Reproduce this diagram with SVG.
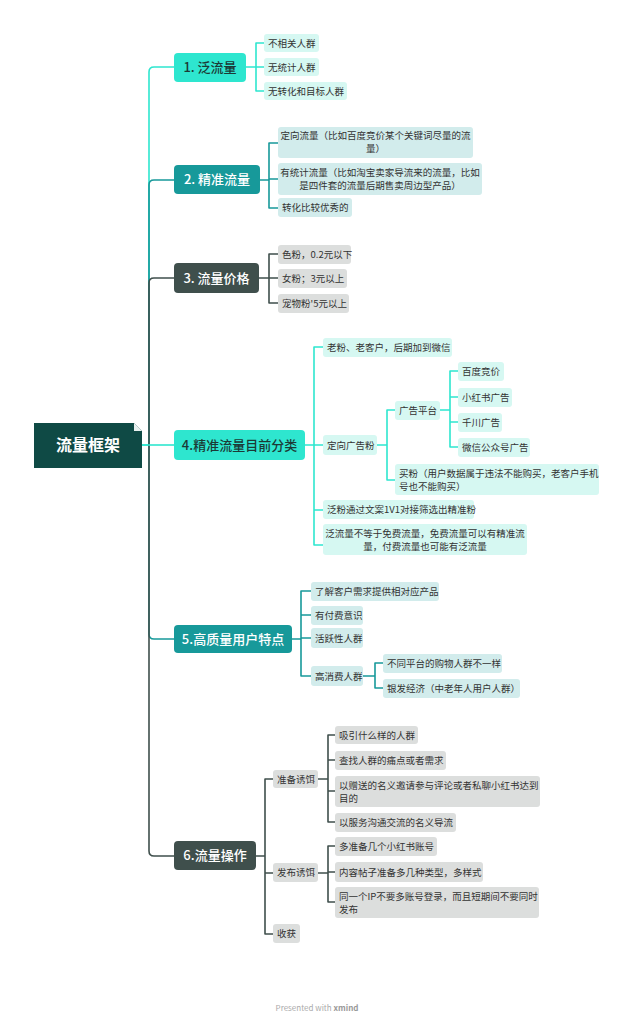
<svg xmlns="http://www.w3.org/2000/svg" width="633" height="1024" viewBox="0 0 633 1024">
<style>
text{font-family:"Noto Sans CJK SC","Liberation Sans",sans-serif;}
.c{fill:#333;font-size:9.5px;}
.l1{font-size:13px;font-weight:500;text-anchor:middle;}
.w{fill:#fff}.d{fill:#1c3a36}
.ln{fill:none;stroke-width:1.6;stroke-linejoin:round}
.mint{fill:#d6f8f2}.teal{fill:#d2ecec}.gray{fill:#dcdedd}
</style>
<rect width="633" height="1024" fill="#fff"/>
<g id="connectors">
<path class="ln" stroke="#2ee6cf" d="M142 445 H149 V72 Q149 67 154 67 H174"/>
<path class="ln" stroke="#17999a" d="M149 445 V185 Q149 180 154 180 H174"/>
<path class="ln" stroke="#3f4f4c" d="M149 445 V283 Q149 278 154 278 H174"/>
<path class="ln" stroke="#17999a" d="M149 445 V634 Q149 639 154 639 H174"/>
<path class="ln" stroke="#3f4f4c" d="M149 445 V851 Q149 856 154 856 H174"/>
<path class="ln" stroke="#2ee6cf" d="M142 445 H174"/>
<g stroke="#2ee6cf" class="ln">
<path d="M246 67 H256 M256 67 V43 H264 M256 67 V91 H264 M256 67 H264"/>
<path d="M305 445 H323 M314 445 V347 H323 M314 445 V545 H323 M314 510 H323"/>
<path d="M377 445 H387 V410 H395 M387 445 V480 H395"/>
<path d="M440 410 H450 V371 H458 M450 410 V447 H458 M450 397 H458 M450 422 H458"/>
</g>
<g stroke="#17999a" class="ln">
<path d="M260 180 H269 V143 H278 M269 180 V208 H278 M269 179 H278"/>
<path d="M292 639 H301 V591 H311 M301 639 V676 H311 M301 615 H311 M301 638 H311"/>
<path d="M363 676 H375 V663 H383 M375 676 V688 H383"/>
</g>
<g stroke="#3f4f4c" class="ln">
<path d="M259 278 H269 V254 H278 M269 278 V303 H278 M269 278 H278"/>
<path d="M256 856 H265 V779 H273 M265 856 V934 H273 M265 873 H273"/>
<path d="M318 779 H328 V735 H335 M328 779 V822 H335 M328 760 H335 M328 791 H335"/>
<path d="M318 873 H328 V846 H335 M328 873 V902 H335 M328 872 H335"/>
</g>
</g>
<g id="root"><rect x="34" y="423" width="108" height="45" fill="#0f4a45"/><path d="M134 423 L142 431 L142 423Z" fill="#fff"/><path d="M134 423 L142 431 L134 431Z" fill="#e8f0ef"/><text x="88" y="451" font-size="16" font-weight="bold" fill="#fff" text-anchor="middle">流量框架</text></g>
<g id="n1"><rect x="174" y="53" width="72" height="29" rx="4" fill="#2ee6cf"/><text class="l1 d" x="210" y="72">1. 泛流量</text></g>
<g id="n2"><rect x="174" y="165" width="86" height="29" rx="4" fill="#17999a"/><text class="l1 w" x="217" y="184">2. 精准流量</text></g>
<g id="n3"><rect x="174" y="263" width="85" height="30" rx="4" fill="#3f4f4c"/><text class="l1 w" x="216.5" y="283">3. 流量价格</text></g>
<g id="n4"><rect x="174" y="430" width="131" height="30" rx="4" fill="#2ee6cf"/><text class="l1 d" x="239.5" y="450">4.精准流量目前分类</text></g>
<g id="n5"><rect x="174" y="625" width="118" height="28" rx="4" fill="#17999a"/><text class="l1 w" x="233" y="644">5.高质量用户特点</text></g>
<g id="n6"><rect x="174" y="841" width="82" height="29" rx="4" fill="#3f4f4c"/><text class="l1 w" x="215" y="860">6.流量操作</text></g>

<g id="n1a"><rect class="mint" x="264" y="34" width="55" height="18" rx="3"/><text class="c" x="268" y="47">不相关人群</text></g>
<g id="n1b"><rect class="mint" x="264" y="58" width="55" height="18" rx="3"/><text class="c" x="268" y="71">无统计人群</text></g>
<g id="n1c"><rect class="mint" x="264" y="82" width="83" height="18" rx="3"/><text class="c" x="268" y="95">无转化和目标人群</text></g>

<g id="n2a"><rect class="teal" x="278" y="127" width="195" height="31" rx="3"/><text class="c" x="375.5" y="139" text-anchor="middle">定向流量（比如百度竞价某个关键词尽量的流</text><text class="c" x="375.5" y="152" text-anchor="middle">量）</text></g>
<g id="n2b"><rect class="teal" x="278" y="163" width="204" height="32" rx="3"/><text class="c" x="380" y="176" text-anchor="middle">有统计流量（比如淘宝卖家导流来的流量，比如</text><text class="c" x="380" y="189" text-anchor="middle">是四件套的流量后期售卖周边型产品）</text></g>
<g id="n2c"><rect class="teal" x="278" y="198" width="74" height="19" rx="3"/><text class="c" x="282" y="211">转化比较优秀的</text></g>

<g id="n3a"><rect class="gray" x="278" y="245" width="73" height="19" rx="3"/><text class="c" x="282" y="258">色粉，0.2元以下</text></g>
<g id="n3b"><rect class="gray" x="278" y="269" width="69" height="19" rx="3"/><text class="c" x="282" y="282">女粉；3元以上</text></g>
<g id="n3c"><rect class="gray" x="278" y="294" width="71" height="19" rx="3"/><text class="c" x="282" y="307">宠物粉'5元以上</text></g>

<g id="n4a"><rect class="mint" x="323" y="338" width="129" height="19" rx="3"/><text class="c" x="327" y="351">老粉、老客户，后期加到微信</text></g>
<g id="n4b"><rect class="mint" x="323" y="435" width="54" height="20" rx="3"/><text class="c" x="327" y="449">定向广告粉</text></g>
<g id="n4b1"><rect class="mint" x="395" y="401" width="45" height="19" rx="3"/><text class="c" x="399" y="414">广告平台</text></g>
<g id="n4b1a"><rect class="mint" x="458" y="362" width="46" height="19" rx="3"/><text class="c" x="462" y="375">百度竞价</text></g>
<g id="n4b1b"><rect class="mint" x="458" y="388" width="54" height="19" rx="3"/><text class="c" x="462" y="401">小红书广告</text></g>
<g id="n4b1c"><rect class="mint" x="458" y="413" width="44" height="19" rx="3"/><text class="c" x="462" y="426">千川广告</text></g>
<g id="n4b1d"><rect class="mint" x="458" y="438" width="72" height="19" rx="3"/><text class="c" x="462" y="451">微信公众号广告</text></g>
<g id="n4b2"><rect class="mint" x="395" y="464" width="204" height="31" rx="3"/><text class="c" x="399" y="477">买粉（用户数据属于违法不能购买，老客户手机</text><text class="c" x="399" y="490">号也不能购买）</text></g>
<g id="n4c"><rect class="mint" x="323" y="500" width="151" height="19" rx="3"/><text class="c" x="327" y="513">泛粉通过文案1V1对接筛选出精准粉</text></g>
<g id="n4d"><rect class="mint" x="323" y="524" width="204" height="31" rx="3"/><text class="c" x="425" y="537" text-anchor="middle">泛流量不等于免费流量，免费流量可以有精准流</text><text class="c" x="425" y="550" text-anchor="middle">量，付费流量也可能有泛流量</text></g>

<g id="n5a"><rect class="teal" x="311" y="582" width="128" height="19" rx="3"/><text class="c" x="315" y="595">了解客户需求提供相对应产品</text></g>
<g id="n5b"><rect class="teal" x="311" y="606" width="52" height="19" rx="3"/><text class="c" x="315" y="619">有付费意识</text></g>
<g id="n5c"><rect class="teal" x="311" y="628" width="52" height="20" rx="3"/><text class="c" x="315" y="642">活跃性人群</text></g>
<g id="n5d"><rect class="teal" x="311" y="666" width="52" height="20" rx="3"/><text class="c" x="315" y="680">高消费人群</text></g>
<g id="n5d1"><rect class="teal" x="383" y="654" width="119" height="19" rx="3"/><text class="c" x="387" y="667">不同平台的购物人群不一样</text></g>
<g id="n5d2"><rect class="teal" x="383" y="679" width="137" height="19" rx="3"/><text class="c" x="387" y="692">银发经济（中老年人用户人群）</text></g>

<g id="n6a"><rect class="gray" x="273" y="770" width="45" height="18" rx="3"/><text class="c" x="277" y="783">准备诱饵</text></g>
<g id="n6a1"><rect class="gray" x="335" y="726" width="83" height="18" rx="3"/><text class="c" x="339" y="739">吸引什么样的人群</text></g>
<g id="n6a2"><rect class="gray" x="335" y="751" width="111" height="19" rx="3"/><text class="c" x="339" y="764">查找人群的痛点或者需求</text></g>
<g id="n6a3"><rect class="gray" x="335" y="776" width="205" height="31" rx="3"/><text class="c" x="339" y="789">以赠送的名义邀请参与评论或者私聊小红书达到</text><text class="c" x="339" y="802">目的</text></g>
<g id="n6a4"><rect class="gray" x="335" y="813" width="121" height="19" rx="3"/><text class="c" x="339" y="826">以服务沟通交流的名义导流</text></g>
<g id="n6b"><rect class="gray" x="273" y="863" width="45" height="19" rx="3"/><text class="c" x="277" y="876">发布诱饵</text></g>
<g id="n6b1"><rect class="gray" x="335" y="837" width="102" height="19" rx="3"/><text class="c" x="339" y="850">多准备几个小红书账号</text></g>
<g id="n6b2"><rect class="gray" x="335" y="862" width="148" height="20" rx="3"/><text class="c" x="339" y="876">内容帖子准备多几种类型，多样式</text></g>
<g id="n6b3"><rect class="gray" x="335" y="887" width="204" height="31" rx="3"/><text class="c" x="339" y="900">同一个IP不要多账号登录，而且短期间不要同时</text><text class="c" x="339" y="913">发布</text></g>
<g id="n6c"><rect class="gray" x="273" y="924" width="27" height="19" rx="3"/><text class="c" x="277" y="937">收获</text></g>

<text x="317" y="1011" font-size="8" fill="#aaa" text-anchor="middle">Presented with <tspan font-weight="bold" fill="#999">xmind</tspan></text>
</svg>
